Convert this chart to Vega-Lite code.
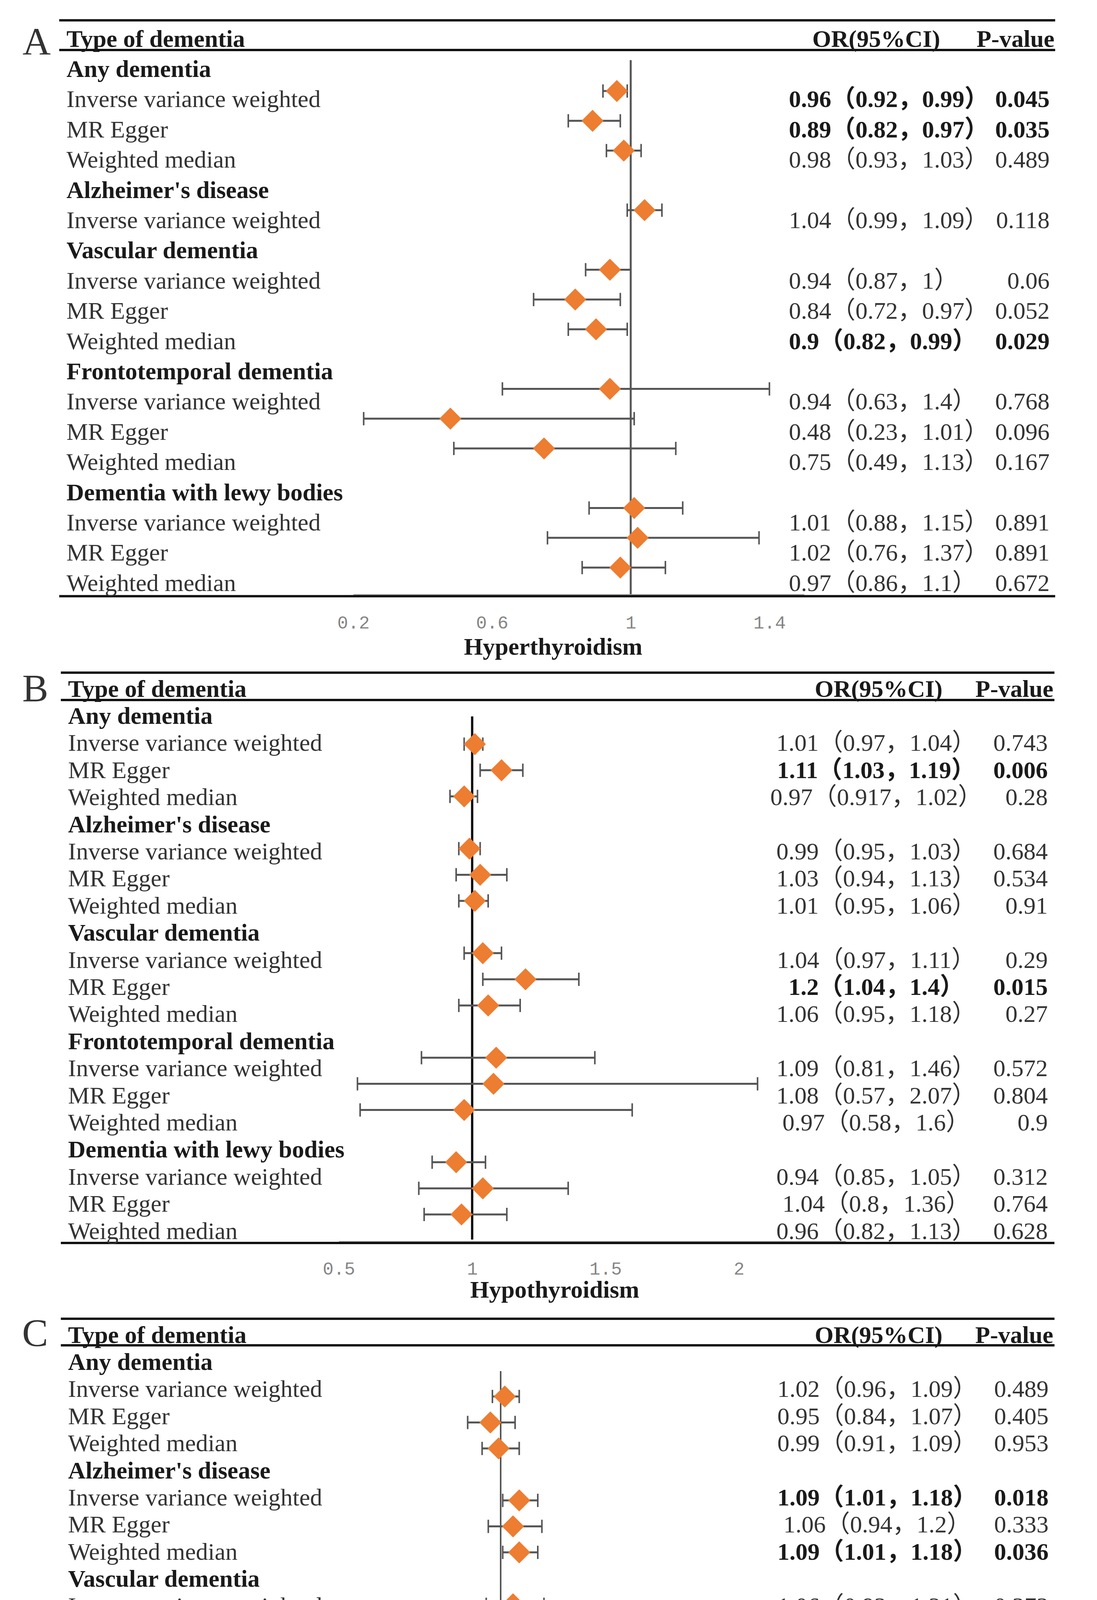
{
  "$schema": "https://vega.github.io/schema/vega-lite/v6.json",
  "background": "white",
  "padding": 0,
  "spacing": 0,
  "config": {
    "view": {"stroke": null},
    "text": {"font": "Liberation Serif, Noto Sans CJK SC", "fontSize": 62, "baseline": "middle", "color": "#333"},
    "axis": {"grid": false, "ticks": false, "tickSize": 0, "domainColor": "#a0a0a0", "domainWidth": 3, "labelFont": "Liberation Mono", "labelFontSize": 46, "labelColor": "#858585", "labelFlush": false, "labelOverlap": false, "labelBound": false, "titleFont": "Liberation Serif", "titleFontSize": 62, "titleFontWeight": "bold", "titleColor": "#1a1a1a", "titleAlign": "center", "titleBaseline": "middle", "titleAngle": 0}
  },
  "datasets": {
    "A": [
      {"row": 1, "label": "Any dementia", "head": true},
      {"row": 2, "label": "Inverse variance weighted", "est": 0.96, "lo": 0.92, "hi": 0.99, "ci": "0.96（0.92，0.99）", "p": "0.045", "sig": true},
      {"row": 3, "label": "MR Egger", "est": 0.89, "lo": 0.82, "hi": 0.97, "ci": "0.89（0.82，0.97）", "p": "0.035", "sig": true},
      {"row": 4, "label": "Weighted median", "est": 0.98, "lo": 0.93, "hi": 1.03, "ci": "0.98（0.93，1.03）", "p": "0.489", "sig": false},
      {"row": 5, "label": "Alzheimer's disease", "head": true},
      {"row": 6, "label": "Inverse variance weighted", "est": 1.04, "lo": 0.99, "hi": 1.09, "ci": "1.04（0.99，1.09）", "p": "0.118", "sig": false},
      {"row": 7, "label": "Vascular dementia", "head": true},
      {"row": 8, "label": "Inverse variance weighted", "est": 0.94, "lo": 0.87, "hi": 1, "ci": "0.94（0.87，1）", "p": "0.06", "sig": false},
      {"row": 9, "label": "MR Egger", "est": 0.84, "lo": 0.72, "hi": 0.97, "ci": "0.84（0.72，0.97）", "p": "0.052", "sig": false},
      {"row": 10, "label": "Weighted median", "est": 0.9, "lo": 0.82, "hi": 0.99, "ci": "0.9（0.82，0.99）", "p": "0.029", "sig": true},
      {"row": 11, "label": "Frontotemporal dementia", "head": true},
      {"row": 12, "label": "Inverse variance weighted", "est": 0.94, "lo": 0.63, "hi": 1.4, "ci": "0.94（0.63，1.4）", "p": "0.768", "sig": false},
      {"row": 13, "label": "MR Egger", "est": 0.48, "lo": 0.23, "hi": 1.01, "ci": "0.48（0.23，1.01）", "p": "0.096", "sig": false},
      {"row": 14, "label": "Weighted median", "est": 0.75, "lo": 0.49, "hi": 1.13, "ci": "0.75（0.49，1.13）", "p": "0.167", "sig": false},
      {"row": 15, "label": "Dementia with lewy bodies", "head": true},
      {"row": 16, "label": "Inverse variance weighted", "est": 1.01, "lo": 0.88, "hi": 1.15, "ci": "1.01（0.88，1.15）", "p": "0.891", "sig": false},
      {"row": 17, "label": "MR Egger", "est": 1.02, "lo": 0.76, "hi": 1.37, "ci": "1.02（0.76，1.37）", "p": "0.891", "sig": false},
      {"row": 18, "label": "Weighted median", "est": 0.97, "lo": 0.86, "hi": 1.1, "ci": "0.97（0.86，1.1）", "p": "0.672", "sig": false}
    ],
    "B": [
      {"row": 1, "label": "Any dementia", "head": true},
      {"row": 2, "label": "Inverse variance weighted", "est": 1.01, "lo": 0.97, "hi": 1.04, "ci": "1.01（0.97，1.04）", "p": "0.743", "sig": false},
      {"row": 3, "label": "MR Egger", "est": 1.11, "lo": 1.03, "hi": 1.19, "ci": "1.11（1.03，1.19）", "p": "0.006", "sig": true},
      {"row": 4, "label": "Weighted median", "est": 0.97, "lo": 0.917, "hi": 1.02, "ci": "0.97（0.917，1.02）", "p": "0.28", "sig": false},
      {"row": 5, "label": "Alzheimer's disease", "head": true},
      {"row": 6, "label": "Inverse variance weighted", "est": 0.99, "lo": 0.95, "hi": 1.03, "ci": "0.99（0.95，1.03）", "p": "0.684", "sig": false},
      {"row": 7, "label": "MR Egger", "est": 1.03, "lo": 0.94, "hi": 1.13, "ci": "1.03（0.94，1.13）", "p": "0.534", "sig": false},
      {"row": 8, "label": "Weighted median", "est": 1.01, "lo": 0.95, "hi": 1.06, "ci": "1.01（0.95，1.06）", "p": "0.91", "sig": false},
      {"row": 9, "label": "Vascular dementia", "head": true},
      {"row": 10, "label": "Inverse variance weighted", "est": 1.04, "lo": 0.97, "hi": 1.11, "ci": "1.04（0.97，1.11）", "p": "0.29", "sig": false},
      {"row": 11, "label": "MR Egger", "est": 1.2, "lo": 1.04, "hi": 1.4, "ci": "1.2（1.04，1.4）", "p": "0.015", "sig": true},
      {"row": 12, "label": "Weighted median", "est": 1.06, "lo": 0.95, "hi": 1.18, "ci": "1.06（0.95，1.18）", "p": "0.27", "sig": false},
      {"row": 13, "label": "Frontotemporal dementia", "head": true},
      {"row": 14, "label": "Inverse variance weighted", "est": 1.09, "lo": 0.81, "hi": 1.46, "ci": "1.09（0.81，1.46）", "p": "0.572", "sig": false},
      {"row": 15, "label": "MR Egger", "est": 1.08, "lo": 0.57, "hi": 2.07, "ci": "1.08（0.57，2.07）", "p": "0.804", "sig": false},
      {"row": 16, "label": "Weighted median", "est": 0.97, "lo": 0.58, "hi": 1.6, "ci": "0.97（0.58，1.6）", "p": "0.9", "sig": false},
      {"row": 17, "label": "Dementia with lewy bodies", "head": true},
      {"row": 18, "label": "Inverse variance weighted", "est": 0.94, "lo": 0.85, "hi": 1.05, "ci": "0.94（0.85，1.05）", "p": "0.312", "sig": false},
      {"row": 19, "label": "MR Egger", "est": 1.04, "lo": 0.8, "hi": 1.36, "ci": "1.04（0.8，1.36）", "p": "0.764", "sig": false},
      {"row": 20, "label": "Weighted median", "est": 0.96, "lo": 0.82, "hi": 1.13, "ci": "0.96（0.82，1.13）", "p": "0.628", "sig": false}
    ],
    "C": [
      {"row": 1, "label": "Any dementia", "head": true},
      {"row": 2, "label": "Inverse variance weighted", "est": 1.02, "lo": 0.96, "hi": 1.09, "ci": "1.02（0.96，1.09）", "p": "0.489", "sig": false},
      {"row": 3, "label": "MR Egger", "est": 0.95, "lo": 0.84, "hi": 1.07, "ci": "0.95（0.84，1.07）", "p": "0.405", "sig": false},
      {"row": 4, "label": "Weighted median", "est": 0.99, "lo": 0.91, "hi": 1.09, "ci": "0.99（0.91，1.09）", "p": "0.953", "sig": false},
      {"row": 5, "label": "Alzheimer's disease", "head": true},
      {"row": 6, "label": "Inverse variance weighted", "est": 1.09, "lo": 1.01, "hi": 1.18, "ci": "1.09（1.01，1.18）", "p": "0.018", "sig": true},
      {"row": 7, "label": "MR Egger", "est": 1.06, "lo": 0.94, "hi": 1.2, "ci": "1.06（0.94，1.2）", "p": "0.333", "sig": false},
      {"row": 8, "label": "Weighted median", "est": 1.09, "lo": 1.01, "hi": 1.18, "ci": "1.09（1.01，1.18）", "p": "0.036", "sig": true},
      {"row": 9, "label": "Vascular dementia", "head": true},
      {"row": 10, "label": "Inverse variance weighted", "est": 1.06, "lo": 0.93, "hi": 1.21, "ci": "1.06（0.93，1.21）", "p": "0.373", "sig": false},
      {"row": 11, "label": "MR Egger", "est": 1.19, "lo": 0.94, "hi": 1.51, "ci": "1.19（0.94，1.51）", "p": "0.146", "sig": false},
      {"row": 12, "label": "Weighted median", "est": 1.08, "lo": 0.9, "hi": 1.3, "ci": "1.08（0.9，1.3）", "p": "0.418", "sig": false},
      {"row": 13, "label": "Frontotemporal dementia", "head": true},
      {"row": 14, "label": "Inverse variance weighted", "est": 0.86, "lo": 0.5, "hi": 1.5, "ci": "0.86（0.5，1.5）", "p": "0.602", "sig": false},
      {"row": 15, "label": "MR Egger", "est": 0.79, "lo": 0.29, "hi": 2.13, "ci": "0.79（0.29，2.13）", "p": "0.643", "sig": false},
      {"row": 16, "label": "Weighted median", "est": 0.79, "lo": 0.32, "hi": 1.96, "ci": "0.79（0.32，1.96）", "p": "0.611", "sig": false},
      {"row": 17, "label": "Dementia with lewy bodies", "head": true},
      {"row": 18, "label": "Inverse variance weighted", "est": 1.07, "lo": 0.93, "hi": 1.31, "ci": "1.07（0.93，1.31）", "p": "0.242", "sig": false},
      {"row": 19, "label": "MR Egger", "est": 1.18, "lo": 0.88, "hi": 1.59, "ci": "1.18（0.88，1.59）", "p": "0.264", "sig": false},
      {"row": 20, "label": "Weighted median", "est": 1.18, "lo": 0.89, "hi": 1.56, "ci": "1.18（0.89，1.56）", "p": "0.24", "sig": false}
    ],
    "D": [
      {"row": 1, "label": "Any dementia", "head": true},
      {"row": 2, "label": "Inverse variance weighted", "est": 1.02, "lo": 0.77, "hi": 1.37, "ci": "1.02（0.77，1.37）", "p": "0.864", "sig": false},
      {"row": 3, "label": "Alzheimer's disease", "head": true},
      {"row": 4, "label": "Wald ratio", "est": 1.05, "lo": 0.83, "hi": 1.32, "ci": "1.05（0.83，1.32）", "p": "0.702", "sig": false},
      {"row": 5, "label": "Vascular dementia", "head": true},
      {"row": 6, "label": "Inverse variance weighted", "est": 1.34, "lo": 0.73, "hi": 2.49, "ci": "1.34（0.73，2.49）", "p": "0.345", "sig": false},
      {"row": 7, "label": "Frontotemporal dementia", "head": true},
      {"row": 8, "label": "Inverse variance weighted", "est": 3.66, "lo": 0.24, "hi": 56.45, "ci": "3.66（0.24，56.45）", "p": "0.352", "sig": false},
      {"row": 9, "label": "Dementia with lewy bodies", "head": true},
      {"row": 10, "label": "Inverse variance weighted", "est": 0.52, "lo": 0.23, "hi": 1.16, "ci": "0.52（0.23，1.16）", "p": "0.111", "sig": false}
    ]
  },
  "vconcat": [
    {
      "width": 2809, "height": 1700,
      "data": {"name": "A"},
      "resolve": {"scale": {"x": "independent", "y": "independent"}},
      "layer": [
        {"layer": [
          {"data": {"values": [{}]}, "mark": {"type": "rule", "color": "#111", "strokeWidth": 6},
           "encoding": {"x": {"datum": -0.648, "type": "quantitative", "scale": {"domain": [0.2, 1.5], "range": [904.6, 2059], "nice": false, "zero": false}, "axis": null}, "x2": {"datum": 2.224}, "y": {"datum": -0.628, "type": "quantitative", "scale": {"domain": [-1.3, 20.664], "reverse": true, "nice": false, "zero": false}, "axis": null}}},
          {"data": {"values": [{}]}, "mark": {"type": "rule", "color": "#111", "strokeWidth": 6},
           "encoding": {"x": {"datum": -0.648, "type": "quantitative", "axis": null}, "x2": {"datum": 2.224}, "y": {"datum": 0.354, "type": "quantitative", "axis": null}}},
          {"data": {"values": [{}]}, "mark": {"type": "rule", "color": "#111", "strokeWidth": 6},
           "encoding": {"x": {"datum": -0.648, "type": "quantitative", "axis": null}, "x2": {"datum": 2.224}, "y": {"datum": 18.42, "type": "quantitative", "axis": null}}},
          {"data": {"values": [{}]}, "mark": {"type": "text", "text": "A", "fontSize": 100, "align": "center", "font": "Liberation Serif", "color": "#333"},
           "encoding": {"x": {"datum": -0.713, "type": "quantitative", "axis": null}, "y": {"datum": 0.12, "type": "quantitative", "axis": null}}},
          {"data": {"values": [{}]}, "mark": {"type": "text", "text": "Type of dementia", "align": "left", "fontWeight": "bold", "color": "#1a1a1a"},
           "encoding": {"x": {"datum": -0.627, "type": "quantitative", "axis": null}, "y": {"datum": 0, "type": "quantitative", "axis": null}}},
          {"data": {"values": [{}]}, "mark": {"type": "text", "text": "OR(95%CI)", "align": "center", "fontWeight": "bold", "color": "#1a1a1a"},
           "encoding": {"x": {"datum": 1.708, "type": "quantitative", "axis": null}, "y": {"datum": 0, "type": "quantitative", "axis": null}}},
          {"data": {"values": [{}]}, "mark": {"type": "text", "text": "P-value", "align": "right", "fontWeight": "bold", "color": "#1a1a1a"},
           "encoding": {"x": {"datum": 2.222, "type": "quantitative", "axis": null}, "y": {"datum": 0, "type": "quantitative", "axis": null}}},
          {"transform": [{"filter": "datum.head"}], "mark": {"type": "text", "align": "left", "fontWeight": "bold", "color": "#1a1a1a"},
           "encoding": {"x": {"datum": -0.627, "type": "quantitative", "axis": null}, "y": {"field": "row", "type": "quantitative", "axis": null}, "text": {"field": "label", "type": "nominal"}}},
          {"transform": [{"filter": "!datum.head"}], "mark": {"type": "text", "align": "left", "color": "#333"},
           "encoding": {"x": {"datum": -0.627, "type": "quantitative", "axis": null}, "y": {"field": "row", "type": "quantitative", "axis": null}, "text": {"field": "label", "type": "nominal"}}},
          {"transform": [{"filter": "datum.ci && !datum.sig"}], "mark": {"type": "text", "align": "left", "color": "#333"},
           "encoding": {"x": {"datum": 1.456, "type": "quantitative", "axis": null}, "y": {"field": "row", "type": "quantitative", "axis": null}, "text": {"field": "ci", "type": "nominal"}}},
          {"transform": [{"filter": "datum.sig"}], "mark": {"type": "text", "align": "left", "fontWeight": "bold", "color": "#1a1a1a"},
           "encoding": {"x": {"datum": 1.456, "type": "quantitative", "axis": null}, "y": {"field": "row", "type": "quantitative", "axis": null}, "text": {"field": "ci", "type": "nominal"}}},
          {"transform": [{"filter": "datum.ci && !datum.sig"}], "mark": {"type": "text", "align": "right", "color": "#333"},
           "encoding": {"x": {"datum": 2.208, "type": "quantitative", "axis": null}, "y": {"field": "row", "type": "quantitative", "axis": null}, "text": {"field": "p", "type": "nominal"}}},
          {"transform": [{"filter": "datum.sig"}], "mark": {"type": "text", "align": "right", "fontWeight": "bold", "color": "#1a1a1a"},
           "encoding": {"x": {"datum": 2.208, "type": "quantitative", "axis": null}, "y": {"field": "row", "type": "quantitative", "axis": null}, "text": {"field": "p", "type": "nominal"}}}
        ]},
        {"layer": [
          {"data": {"values": [{}]}, "mark": {"type": "rule", "color": "#555", "strokeWidth": 5},
           "encoding": {"x": {"datum": 1, "type": "quantitative", "scale": {"domain": [0.2, 1.5], "range": [904.6, 2059], "nice": false, "zero": false, "clamp": true}, "axis": {"values": [0.2, 0.6, 1, 1.4], "format": "~g", "title": "Hyperthyroidism", "titleX": 1416, "titleY": 134, "offset": -178, "labelPadding": 50}}, "y": {"datum": 0.964, "type": "quantitative", "scale": {"domain": [-1.056, 21.239], "reverse": true, "nice": false, "zero": false}, "axis": null}, "y2": {"datum": 18.89}}},
          {"transform": [{"filter": "isValid(datum.est)"}], "mark": {"type": "rule", "color": "#555", "strokeWidth": 5},
           "encoding": {"x": {"field": "lo", "type": "quantitative"}, "x2": {"field": "hi"}, "y": {"field": "row", "type": "quantitative", "axis": null}}},
          {"transform": [{"filter": "isValid(datum.est)"}], "mark": {"type": "tick", "orient": "vertical", "size": 34, "thickness": 4, "color": "#555", "opacity": 1},
           "encoding": {"x": {"field": "lo", "type": "quantitative"}, "y": {"field": "row", "type": "quantitative", "axis": null}}},
          {"transform": [{"filter": "isValid(datum.est)"}], "mark": {"type": "tick", "orient": "vertical", "size": 34, "thickness": 4, "color": "#555", "opacity": 1},
           "encoding": {"x": {"field": "hi", "type": "quantitative"}, "y": {"field": "row", "type": "quantitative", "axis": null}}},
          {"transform": [{"filter": "isValid(datum.est)"}], "mark": {"type": "point", "shape": "diamond", "filled": true, "size": 3200, "color": "#ED7D31", "opacity": 1, "strokeWidth": 0},
           "encoding": {"x": {"field": "est", "type": "quantitative"}, "y": {"field": "row", "type": "quantitative", "axis": null}}}
        ]}
      ]
    },
    {
      "width": 2809, "height": 1640,
      "data": {"name": "B"},
      "resolve": {"scale": {"x": "independent", "y": "independent"}},
      "layer": [
        {"layer": [
          {"data": {"values": [{}]}, "mark": {"type": "rule", "color": "#111", "strokeWidth": 6},
           "encoding": {"x": {"datum": -0.542, "type": "quantitative", "scale": {"domain": [0.5, 2.4], "range": [867.5, 2165.2], "nice": false, "zero": false}, "axis": null}, "x2": {"datum": 3.183}, "y": {"datum": -0.614, "type": "quantitative", "scale": {"domain": [-0.931, 22.7], "reverse": true, "nice": false, "zero": false}, "axis": null}}},
          {"data": {"values": [{}]}, "mark": {"type": "rule", "color": "#111", "strokeWidth": 6},
           "encoding": {"x": {"datum": -0.542, "type": "quantitative", "axis": null}, "x2": {"datum": 3.183}, "y": {"datum": 0.395, "type": "quantitative", "axis": null}}},
          {"data": {"values": [{}]}, "mark": {"type": "rule", "color": "#111", "strokeWidth": 6},
           "encoding": {"x": {"datum": -0.542, "type": "quantitative", "axis": null}, "x2": {"datum": 3.183}, "y": {"datum": 20.424, "type": "quantitative", "axis": null}}},
          {"data": {"values": [{}]}, "mark": {"type": "text", "text": "B", "fontSize": 100, "align": "center", "font": "Liberation Serif", "color": "#333"},
           "encoding": {"x": {"datum": -0.638, "type": "quantitative", "axis": null}, "y": {"datum": 0, "type": "quantitative", "axis": null}}},
          {"data": {"values": [{}]}, "mark": {"type": "text", "text": "Type of dementia", "align": "left", "fontWeight": "bold", "color": "#1a1a1a"},
           "encoding": {"x": {"datum": -0.515, "type": "quantitative", "axis": null}, "y": {"datum": 0, "type": "quantitative", "axis": null}}},
          {"data": {"values": [{}]}, "mark": {"type": "text", "text": "OR(95%CI)", "align": "center", "fontWeight": "bold", "color": "#1a1a1a"},
           "encoding": {"x": {"datum": 2.524, "type": "quantitative", "axis": null}, "y": {"datum": 0, "type": "quantitative", "axis": null}}},
          {"data": {"values": [{}]}, "mark": {"type": "text", "text": "P-value", "align": "right", "fontWeight": "bold", "color": "#1a1a1a"},
           "encoding": {"x": {"datum": 3.179, "type": "quantitative", "axis": null}, "y": {"datum": 0, "type": "quantitative", "axis": null}}},
          {"transform": [{"filter": "datum.head"}], "mark": {"type": "text", "align": "left", "fontWeight": "bold", "color": "#1a1a1a"},
           "encoding": {"x": {"datum": -0.515, "type": "quantitative", "axis": null}, "y": {"field": "row", "type": "quantitative", "axis": null}, "text": {"field": "label", "type": "nominal"}}},
          {"transform": [{"filter": "!datum.head"}], "mark": {"type": "text", "align": "left", "color": "#333"},
           "encoding": {"x": {"datum": -0.515, "type": "quantitative", "axis": null}, "y": {"field": "row", "type": "quantitative", "axis": null}, "text": {"field": "label", "type": "nominal"}}},
          {"transform": [{"filter": "datum.ci && !datum.sig"}], "mark": {"type": "text", "align": "center", "color": "#333"},
           "encoding": {"x": {"datum": 2.515, "type": "quantitative", "axis": null}, "y": {"field": "row", "type": "quantitative", "axis": null}, "text": {"field": "ci", "type": "nominal"}}},
          {"transform": [{"filter": "datum.sig"}], "mark": {"type": "text", "align": "center", "fontWeight": "bold", "color": "#1a1a1a"},
           "encoding": {"x": {"datum": 2.515, "type": "quantitative", "axis": null}, "y": {"field": "row", "type": "quantitative", "axis": null}, "text": {"field": "ci", "type": "nominal"}}},
          {"transform": [{"filter": "datum.ci && !datum.sig"}], "mark": {"type": "text", "align": "right", "color": "#333"},
           "encoding": {"x": {"datum": 3.158, "type": "quantitative", "axis": null}, "y": {"field": "row", "type": "quantitative", "axis": null}, "text": {"field": "p", "type": "nominal"}}},
          {"transform": [{"filter": "datum.sig"}], "mark": {"type": "text", "align": "right", "fontWeight": "bold", "color": "#1a1a1a"},
           "encoding": {"x": {"datum": 3.158, "type": "quantitative", "axis": null}, "y": {"field": "row", "type": "quantitative", "axis": null}, "text": {"field": "p", "type": "nominal"}}}
        ]},
        {"layer": [
          {"data": {"values": [{}]}, "mark": {"type": "rule", "color": "#111", "strokeWidth": 6},
           "encoding": {"x": {"datum": 1, "type": "quantitative", "scale": {"domain": [0.5, 2.4], "range": [867.5, 2165.2], "nice": false, "zero": false, "clamp": true}, "axis": {"values": [0.5, 1, 1.5, 2], "format": "~g", "title": "Hypothyroidism", "titleX": 1420, "titleY": 124, "offset": -162, "labelPadding": 48}}, "y": {"datum": 0.939, "type": "quantitative", "scale": {"domain": [-1.064, 23.453], "reverse": true, "nice": false, "zero": false}, "axis": null}, "y2": {"datum": 20.96}}},
          {"transform": [{"filter": "isValid(datum.est)"}], "mark": {"type": "rule", "color": "#555", "strokeWidth": 5},
           "encoding": {"x": {"field": "lo", "type": "quantitative"}, "x2": {"field": "hi"}, "y": {"field": "row", "type": "quantitative", "axis": null}}},
          {"transform": [{"filter": "isValid(datum.est)"}], "mark": {"type": "tick", "orient": "vertical", "size": 34, "thickness": 4, "color": "#555", "opacity": 1},
           "encoding": {"x": {"field": "lo", "type": "quantitative"}, "y": {"field": "row", "type": "quantitative", "axis": null}}},
          {"transform": [{"filter": "isValid(datum.est)"}], "mark": {"type": "tick", "orient": "vertical", "size": 34, "thickness": 4, "color": "#555", "opacity": 1},
           "encoding": {"x": {"field": "hi", "type": "quantitative"}, "y": {"field": "row", "type": "quantitative", "axis": null}}},
          {"transform": [{"filter": "isValid(datum.est)"}], "mark": {"type": "point", "shape": "diamond", "filled": true, "size": 3200, "color": "#ED7D31", "opacity": 1, "strokeWidth": 0},
           "encoding": {"x": {"field": "est", "type": "quantitative"}, "y": {"field": "row", "type": "quantitative", "axis": null}}}
        ]}
      ]
    },
    {
      "width": 2809, "height": 1665,
      "data": {"name": "C"},
      "resolve": {"scale": {"x": "independent", "y": "independent"}},
      "layer": [
        {"layer": [
          {"data": {"values": [{}]}, "mark": {"type": "rule", "color": "#111", "strokeWidth": 6},
           "encoding": {"x": {"datum": -1.133, "type": "quantitative", "scale": {"domain": [0.1, 2.5], "range": [806.8, 2074], "nice": false, "zero": false}, "axis": null}, "x2": {"datum": 3.686}, "y": {"datum": -0.614, "type": "quantitative", "scale": {"domain": [-1.133, 22.859], "reverse": true, "nice": false, "zero": false}, "axis": null}}},
          {"data": {"values": [{}]}, "mark": {"type": "rule", "color": "#111", "strokeWidth": 6},
           "encoding": {"x": {"datum": -1.133, "type": "quantitative", "axis": null}, "x2": {"datum": 3.686}, "y": {"datum": 0.366, "type": "quantitative", "axis": null}}},
          {"data": {"values": [{}]}, "mark": {"type": "rule", "color": "#111", "strokeWidth": 6},
           "encoding": {"x": {"datum": -1.133, "type": "quantitative", "axis": null}, "x2": {"datum": 3.686}, "y": {"datum": 20.409, "type": "quantitative", "axis": null}}},
          {"data": {"values": [{}]}, "mark": {"type": "text", "text": "C", "fontSize": 100, "align": "center", "font": "Liberation Serif", "color": "#333"},
           "encoding": {"x": {"datum": -1.258, "type": "quantitative", "axis": null}, "y": {"datum": -0.05, "type": "quantitative", "axis": null}}},
          {"data": {"values": [{}]}, "mark": {"type": "text", "text": "Type of dementia", "align": "left", "fontWeight": "bold", "color": "#1a1a1a"},
           "encoding": {"x": {"datum": -1.098, "type": "quantitative", "axis": null}, "y": {"datum": 0, "type": "quantitative", "axis": null}}},
          {"data": {"values": [{}]}, "mark": {"type": "text", "text": "OR(95%CI)", "align": "center", "fontWeight": "bold", "color": "#1a1a1a"},
           "encoding": {"x": {"datum": 2.833, "type": "quantitative", "axis": null}, "y": {"datum": 0, "type": "quantitative", "axis": null}}},
          {"data": {"values": [{}]}, "mark": {"type": "text", "text": "P-value", "align": "right", "fontWeight": "bold", "color": "#1a1a1a"},
           "encoding": {"x": {"datum": 3.68, "type": "quantitative", "axis": null}, "y": {"datum": 0, "type": "quantitative", "axis": null}}},
          {"transform": [{"filter": "datum.head"}], "mark": {"type": "text", "align": "left", "fontWeight": "bold", "color": "#1a1a1a"},
           "encoding": {"x": {"datum": -1.098, "type": "quantitative", "axis": null}, "y": {"field": "row", "type": "quantitative", "axis": null}, "text": {"field": "label", "type": "nominal"}}},
          {"transform": [{"filter": "!datum.head"}], "mark": {"type": "text", "align": "left", "color": "#333"},
           "encoding": {"x": {"datum": -1.098, "type": "quantitative", "axis": null}, "y": {"field": "row", "type": "quantitative", "axis": null}, "text": {"field": "label", "type": "nominal"}}},
          {"transform": [{"filter": "datum.ci && !datum.sig"}], "mark": {"type": "text", "align": "center", "color": "#333"},
           "encoding": {"x": {"datum": 2.826, "type": "quantitative", "axis": null}, "y": {"field": "row", "type": "quantitative", "axis": null}, "text": {"field": "ci", "type": "nominal"}}},
          {"transform": [{"filter": "datum.sig"}], "mark": {"type": "text", "align": "center", "fontWeight": "bold", "color": "#1a1a1a"},
           "encoding": {"x": {"datum": 2.826, "type": "quantitative", "axis": null}, "y": {"field": "row", "type": "quantitative", "axis": null}, "text": {"field": "ci", "type": "nominal"}}},
          {"transform": [{"filter": "datum.ci && !datum.sig"}], "mark": {"type": "text", "align": "right", "color": "#333"},
           "encoding": {"x": {"datum": 3.657, "type": "quantitative", "axis": null}, "y": {"field": "row", "type": "quantitative", "axis": null}, "text": {"field": "p", "type": "nominal"}}},
          {"transform": [{"filter": "datum.sig"}], "mark": {"type": "text", "align": "right", "fontWeight": "bold", "color": "#1a1a1a"},
           "encoding": {"x": {"datum": 3.657, "type": "quantitative", "axis": null}, "y": {"field": "row", "type": "quantitative", "axis": null}, "text": {"field": "p", "type": "nominal"}}}
        ]},
        {"layer": [
          {"data": {"values": [{}]}, "mark": {"type": "rule", "color": "#555", "strokeWidth": 4},
           "encoding": {"x": {"datum": 1, "type": "quantitative", "scale": {"domain": [0.1, 2.5], "range": [806.8, 2074], "nice": false, "zero": false, "clamp": true}, "axis": {"values": [0.1, 0.55, 1, 1.45, 1.9, 2.35], "format": "~g", "title": "Thyroid stimulating hormone", "titleX": 1422, "titleY": 122, "offset": -173, "labelPadding": 50}}, "y": {"datum": 1.023, "type": "quantitative", "scale": {"domain": [-1.534, 23.504], "reverse": true, "nice": false, "zero": false}, "axis": null}, "y2": {"datum": 20.03}}},
          {"transform": [{"filter": "isValid(datum.est)"}], "mark": {"type": "rule", "color": "#555", "strokeWidth": 5},
           "encoding": {"x": {"field": "lo", "type": "quantitative"}, "x2": {"field": "hi"}, "y": {"field": "row", "type": "quantitative", "axis": null}}},
          {"transform": [{"filter": "isValid(datum.est)"}], "mark": {"type": "tick", "orient": "vertical", "size": 34, "thickness": 4, "color": "#555", "opacity": 1},
           "encoding": {"x": {"field": "lo", "type": "quantitative"}, "y": {"field": "row", "type": "quantitative", "axis": null}}},
          {"transform": [{"filter": "isValid(datum.est)"}], "mark": {"type": "tick", "orient": "vertical", "size": 34, "thickness": 4, "color": "#555", "opacity": 1},
           "encoding": {"x": {"field": "hi", "type": "quantitative"}, "y": {"field": "row", "type": "quantitative", "axis": null}}},
          {"transform": [{"filter": "isValid(datum.est)"}], "mark": {"type": "point", "shape": "diamond", "filled": true, "size": 3200, "color": "#ED7D31", "opacity": 1, "strokeWidth": 0},
           "encoding": {"x": {"field": "est", "type": "quantitative"}, "y": {"field": "row", "type": "quantitative", "axis": null}}}
        ]}
      ]
    },
    {
      "width": 2809, "height": 957,
      "data": {"name": "D"},
      "resolve": {"scale": {"x": "independent", "y": "independent"}},
      "layer": [
        {"layer": [
          {"data": {"values": [{}]}, "mark": {"type": "rule", "color": "#111", "strokeWidth": 6},
           "encoding": {"x": {"datum": -0.936, "type": "quantitative", "scale": {"domain": [0.2, 3], "range": [860, 2617], "nice": false, "zero": false}, "axis": null}, "x2": {"datum": 3.123}, "y": {"datum": -0.631, "type": "quantitative", "scale": {"domain": [-1.049, 12.76], "reverse": true, "nice": false, "zero": false}, "axis": null}}},
          {"data": {"values": [{}]}, "mark": {"type": "rule", "color": "#111", "strokeWidth": 6},
           "encoding": {"x": {"datum": -0.936, "type": "quantitative", "axis": null}, "x2": {"datum": 3.123}, "y": {"datum": 0.408, "type": "quantitative", "axis": null}}},
          {"data": {"values": [{}]}, "mark": {"type": "rule", "color": "#111", "strokeWidth": 6},
           "encoding": {"x": {"datum": -0.936, "type": "quantitative", "axis": null}, "x2": {"datum": 3.123}, "y": {"datum": 10.437, "type": "quantitative", "axis": null}}},
          {"data": {"values": [{}]}, "mark": {"type": "text", "text": "D", "fontSize": 100, "align": "center", "font": "Liberation Serif", "color": "#333"},
           "encoding": {"x": {"datum": -1.033, "type": "quantitative", "axis": null}, "y": {"datum": 0, "type": "quantitative", "axis": null}}},
          {"data": {"values": [{}]}, "mark": {"type": "text", "text": "Type of dementia", "align": "left", "fontWeight": "bold", "color": "#1a1a1a"},
           "encoding": {"x": {"datum": -0.908, "type": "quantitative", "axis": null}, "y": {"datum": 0, "type": "quantitative", "axis": null}}},
          {"data": {"values": [{}]}, "mark": {"type": "text", "text": "OR(95%CI)", "align": "center", "fontWeight": "bold", "color": "#1a1a1a"},
           "encoding": {"x": {"datum": 2.399, "type": "quantitative", "axis": null}, "y": {"datum": 0, "type": "quantitative", "axis": null}}},
          {"data": {"values": [{}]}, "mark": {"type": "text", "text": "P-value", "align": "right", "fontWeight": "bold", "color": "#1a1a1a"},
           "encoding": {"x": {"datum": 3.113, "type": "quantitative", "axis": null}, "y": {"datum": 0, "type": "quantitative", "axis": null}}},
          {"transform": [{"filter": "datum.head"}], "mark": {"type": "text", "align": "left", "fontWeight": "bold", "color": "#1a1a1a"},
           "encoding": {"x": {"datum": -0.908, "type": "quantitative", "axis": null}, "y": {"field": "row", "type": "quantitative", "axis": null}, "text": {"field": "label", "type": "nominal"}}},
          {"transform": [{"filter": "!datum.head"}], "mark": {"type": "text", "align": "left", "color": "#333"},
           "encoding": {"x": {"datum": -0.908, "type": "quantitative", "axis": null}, "y": {"field": "row", "type": "quantitative", "axis": null}, "text": {"field": "label", "type": "nominal"}}},
          {"transform": [{"filter": "datum.ci && !datum.sig"}], "mark": {"type": "text", "align": "center", "color": "#333"},
           "encoding": {"x": {"datum": 2.393, "type": "quantitative", "axis": null}, "y": {"field": "row", "type": "quantitative", "axis": null}, "text": {"field": "ci", "type": "nominal"}}},
          {"transform": [{"filter": "datum.ci && !datum.sig"}], "mark": {"type": "text", "align": "right", "color": "#333"},
           "encoding": {"x": {"datum": 3.092, "type": "quantitative", "axis": null}, "y": {"field": "row", "type": "quantitative", "axis": null}, "text": {"field": "p", "type": "nominal"}}}
        ]},
        {"layer": [
          {"data": {"values": [{}]}, "mark": {"type": "rule", "color": "#111", "strokeWidth": 6},
           "encoding": {"x": {"datum": 1, "type": "quantitative", "scale": {"domain": [0.2, 3], "range": [860, 2617], "nice": false, "zero": false, "clamp": true}, "axis": {"values": [0.2, 0.6, 1, 1.4, 1.8, 2.2, 2.6, 3], "format": "~g", "title": "FT4", "titleX": 1407, "titleY": 111, "offset": -159, "labelPadding": 40}}, "y": {"datum": 0.935, "type": "quantitative", "scale": {"domain": [-0.781, 13.376], "reverse": true, "nice": false, "zero": false}, "axis": null}, "y2": {"datum": 10.02}}},
          {"transform": [{"filter": "isValid(datum.est)"}], "mark": {"type": "rule", "color": "#555", "strokeWidth": 5},
           "encoding": {"x": {"field": "lo", "type": "quantitative"}, "x2": {"field": "hi"}, "y": {"field": "row", "type": "quantitative", "axis": null}}},
          {"transform": [{"filter": "isValid(datum.est)"}], "mark": {"type": "tick", "orient": "vertical", "size": 34, "thickness": 4, "color": "#555", "opacity": 1},
           "encoding": {"x": {"field": "lo", "type": "quantitative"}, "y": {"field": "row", "type": "quantitative", "axis": null}}},
          {"transform": [{"filter": "isValid(datum.est) && datum.hi <= 3"}], "mark": {"type": "tick", "orient": "vertical", "size": 34, "thickness": 4, "color": "#555", "opacity": 1},
           "encoding": {"x": {"field": "hi", "type": "quantitative"}, "y": {"field": "row", "type": "quantitative", "axis": null}}},
          {"transform": [{"filter": "isValid(datum.est) && datum.est <= 3"}], "mark": {"type": "point", "shape": "diamond", "filled": true, "size": 3200, "color": "#ED7D31", "opacity": 1, "strokeWidth": 0},
           "encoding": {"x": {"field": "est", "type": "quantitative"}, "y": {"field": "row", "type": "quantitative", "axis": null}}}
        ]}
      ]
    }
  ]
}
